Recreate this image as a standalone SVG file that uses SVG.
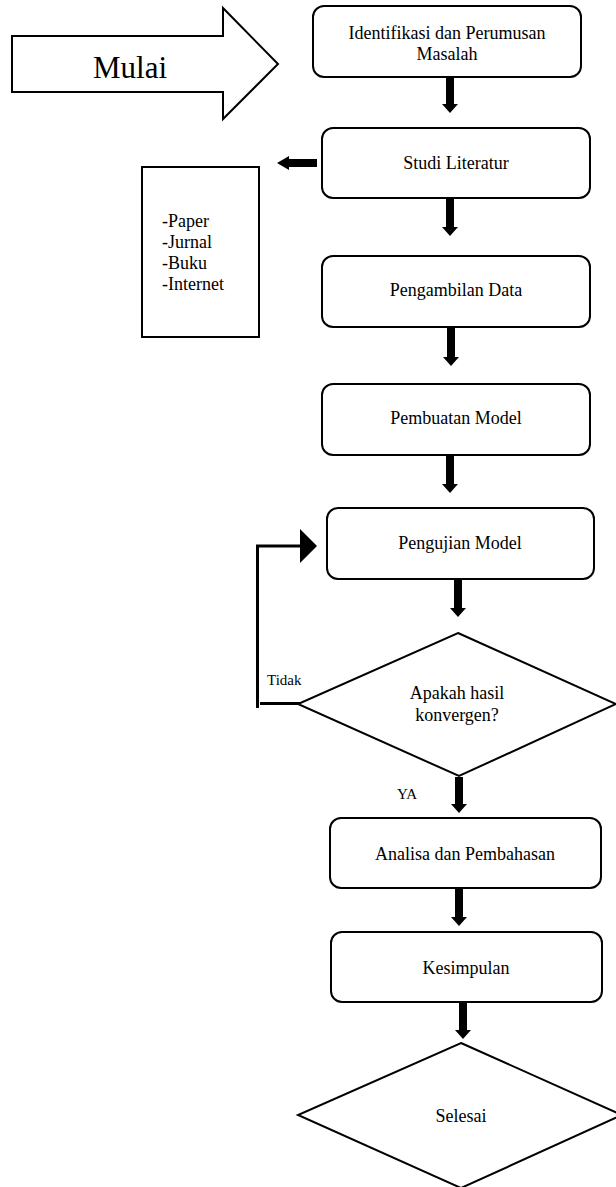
<svg xmlns="http://www.w3.org/2000/svg" width="616" height="1187" viewBox="0 0 616 1187">
<style>
.box{fill:#fff;stroke:#000;stroke-width:2}
.dia{fill:#fff;stroke:#000;stroke-width:2;stroke-linejoin:miter}
.blk{fill:#000;stroke:none}
.ln{fill:none;stroke:#000;stroke-width:3}
text{font-family:"Liberation Serif","Times New Roman",serif;fill:#000}
.t{font-size:18px;text-anchor:middle}
.s{font-size:15px}
</style>
<rect width="616" height="1187" fill="#fff"/>
<g id="mulai">
<path class="dia" d="M12,36 H223 V8 L278,64 L223,119 V92 H12 Z"/>
<text x="130" y="78" style="font-size:31px;text-anchor:middle">Mulai</text>
</g>
<g id="identifikasi">
<rect class="box" x="313" y="6" width="268" height="71" rx="11"/>
<text class="t" x="447" y="39">Identifikasi dan Perumusan</text>
<text class="t" x="447" y="60">Masalah</text>
</g>
<g id="studi">
<rect class="box" x="322" y="128" width="268" height="70" rx="11"/>
<text class="t" x="456" y="169">Studi Literatur</text>
</g>
<g id="referensi">
<rect class="box" x="142" y="167" width="117" height="170"/>
<text style="font-size:18px" x="162" y="227">-Paper</text>
<text style="font-size:18px" x="162" y="248">-Jurnal</text>
<text style="font-size:18px" x="162" y="269">-Buku</text>
<text style="font-size:18px" x="162" y="290">-Internet</text>
</g>
<g id="pengambilan">
<rect class="box" x="322" y="256" width="268" height="71" rx="11"/>
<text class="t" x="456" y="296">Pengambilan Data</text>
</g>
<g id="pembuatan">
<rect class="box" x="322" y="384" width="268" height="71" rx="11"/>
<text class="t" x="456" y="424">Pembuatan Model</text>
</g>
<g id="pengujian">
<rect class="box" x="327" y="508" width="267" height="71" rx="11"/>
<text class="t" x="460" y="549">Pengujian Model</text>
</g>
<g id="keputusan">
<path class="dia" d="M458,633 L616,704 L459,776 L298,704 Z"/>
<text class="t" x="457" y="699">Apakah hasil</text>
<text class="t" x="457" y="721">konvergen?</text>
</g>
<g id="analisa">
<rect class="box" x="330" y="818" width="271" height="70" rx="11"/>
<text class="t" x="465" y="860">Analisa dan Pembahasan</text>
</g>
<g id="kesimpulan">
<rect class="box" x="331" y="932" width="271" height="70" rx="11"/>
<text class="t" x="466" y="974">Kesimpulan</text>
</g>
<g id="selesai">
<path class="dia" d="M461,1043 L622,1115 L461,1188 L298,1115 Z"/>
<text class="t" x="461" y="1122">Selesai</text>
</g>
<g id="connectors">
<path class="blk" d="M446,78 H454 V104 H458 L450,113 L442,104 H446 Z"/>
<path class="blk" d="M446,199 H454 V227 H458 L450,236 L442,227 H446 Z"/>
<path class="blk" d="M447,328 H455 V357 H459 L451,366 L443,357 H447 Z"/>
<path class="blk" d="M446,456 H454 V484 H458 L450,493 L442,484 H446 Z"/>
<path class="blk" d="M454,580 H462 V608 H466 L458,617 L450,608 H454 Z"/>
<path class="blk" d="M455,777 H463 V804 H467 L459,813 L451,804 H455 Z"/>
<path class="blk" d="M455,889 H463 V917 H467 L459,926 L451,917 H455 Z"/>
<path class="blk" d="M459,1003 H467 V1030 H471 L463,1039 L455,1030 H459 Z"/>
<path class="blk" d="M317,159 V167 H289 V170 L277,163 L289,156 V159 Z"/>
<path class="ln" d="M257.5,708 V546 H302"/>
<path class="ln" d="M260,703.5 H300"/>
<path class="blk" d="M300,529 L317,546 L300,563 Z"/>
<text class="s" x="267" y="685">Tidak</text>
<text class="s" x="397" y="799">YA</text>
</g>
</svg>
